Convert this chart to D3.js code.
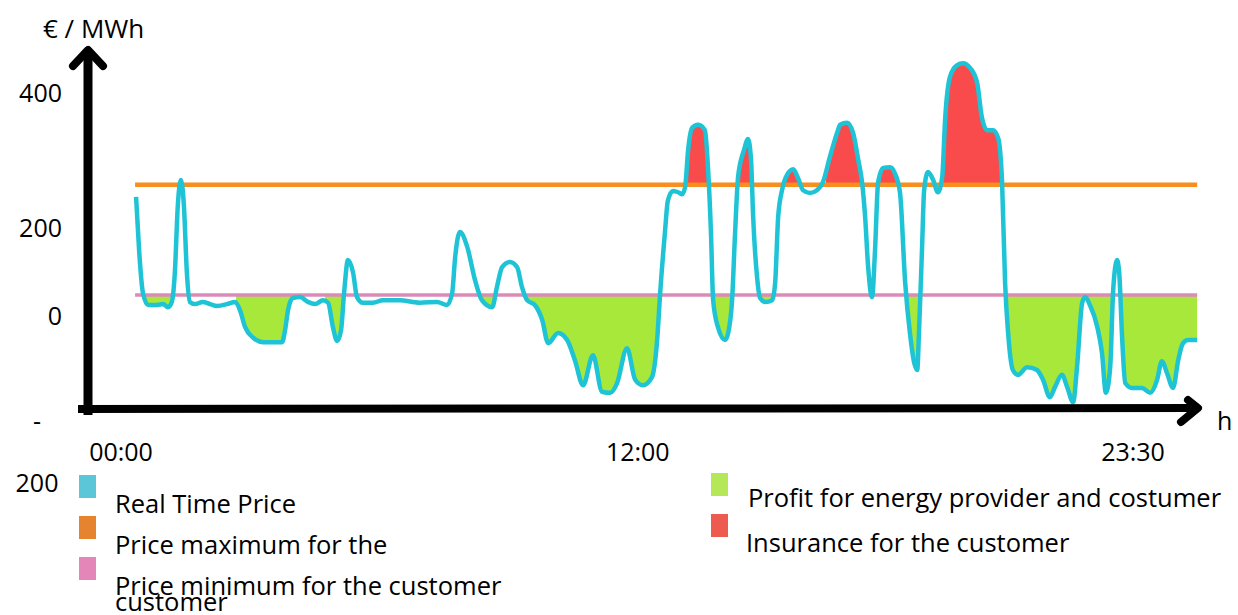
<!DOCTYPE html>
<html>
<head>
<meta charset="utf-8">
<script src="https://cdn.jsdelivr.net/npm/d3@7/dist/d3.min.js"></script>
<style>
  body { margin: 0; background: #fff; }
  text { font-family: 'Open Sans', sans-serif; fill: #000; }
</style>
</head>
<body>
<div id="chart"></div>
<script>
'use strict';

// real time price, hour of day -> EUR / MWh
const hours = [
  0.35, 0.42, 0.51, 0.63, 0.84, 0.98, 1.09, 1.18, 1.25, 1.32, 1.39, 1.46, 1.53, 1.60, 1.72, 1.90,
  2.07, 2.23, 2.46, 2.65, 2.76, 2.88, 3.07, 3.30, 3.53, 3.74, 3.81, 3.88, 3.99, 4.16, 4.34, 4.51,
  4.69, 4.81, 4.92, 5.02, 5.11, 5.18, 5.27, 5.39, 5.48, 5.62, 5.85, 6.08, 6.48, 6.78, 6.94, 7.34,
  7.57, 7.69, 7.76, 7.87, 8.04, 8.22, 8.38, 8.62, 8.73, 8.85, 9.03, 9.20, 9.31, 9.43, 9.61, 9.78,
  9.92, 10.15, 10.36, 10.54, 10.73, 10.96, 11.17, 11.36, 11.52, 11.75, 11.94, 12.12, 12.33, 12.45, 12.52, 12.63,
  12.70, 12.82, 12.94, 13.03, 13.10, 13.17, 13.26, 13.40, 13.56, 13.63, 13.70, 13.75, 13.86, 14.03, 14.10, 14.19,
  14.26, 14.33, 14.47, 14.56, 14.63, 14.68, 14.77, 14.84, 14.96, 15.12, 15.19, 15.26, 15.35, 15.47, 15.61, 15.72,
  15.84, 16.00, 16.16, 16.30, 16.46, 16.63, 16.70, 16.86, 17.00, 17.12, 17.21, 17.28, 17.35, 17.44, 17.51, 17.58,
  17.70, 17.86, 17.97, 18.09, 18.21, 18.32, 18.42, 18.49, 18.53, 18.60, 18.65, 18.74, 18.86, 18.97, 19.07, 19.14,
  19.25, 19.41, 19.55, 19.72, 19.88, 19.99, 20.11, 20.25, 20.37, 20.46, 20.53, 20.60, 20.71, 20.83, 21.04, 21.27,
  21.41, 21.57, 21.69, 21.85, 21.97, 22.11, 22.20, 22.32, 22.39, 22.50, 22.67, 22.78, 22.87, 22.97, 23.04, 23.13,
  23.18, 23.25, 23.32, 23.48, 23.71, 23.90, 24.06, 24.17, 24.29, 24.43, 24.55, 24.66, 24.78, 24.99
];
const price = [
  246, 150, 52, 25, 25, 27, 20, 32, 98, 234, 271, 234, 98, 32, 27, 32,
  27, 23, 27, 32, 14, -20, -40, -48, -48, -48, -26, 14, 41, 43, 32, 27,
  36, 30, -20, -46, -26, 52, 127, 98, 43, 30, 30, 36, 36, 32, 30, 32,
  25, 52, 134, 191, 157, 82, 36, 20, 66, 111, 123, 111, 66, 36, 25, -7,
  -50, -31, -44, -81, -127, -72, -139, -141, -123, -59, -117, -127, -112, -44, 52, 189,
  241, 255, 253, 250, 261, 316, 348, 353, 345, 290, 189, 36, -20, -44, -31, 36,
  189, 276, 316, 332, 301, 216, 89, 41, 32, 36, 75, 216, 256, 279, 287, 274,
  256, 252, 256, 268, 305, 341, 353, 356, 341, 301, 267, 216, 111, 43, 150, 267,
  289, 290, 281, 252, 75, -31, -86, -99, -31, 150, 256, 283, 271, 253, 276, 364,
  424, 441, 444, 437, 415, 364, 345, 345, 333, 267, 75, -31, -99, -108, -94, -99,
  -117, -149, -130, -108, -130, -158, -94, 30, 43, 25, -20, -68, -141, -94, 59, 127,
  98, -44, -123, -132, -132, -141, -117, -83, -105, -132, -81, -50, -44, -44
];

const priceMax = 264;
const priceMin = 48;

// hour ranges that are shaded in the picture
const profitSpans = [
  [0.51, 1.23], [2.67, 3.97], [4.74, 5.18], [8.38, 8.69], [9.43, 12.52],
  [13.75, 14.21], [14.82, 15.17], [18.21, 18.60], [20.51, 25.0]
];
const insuranceSpans = [
  [13.10, 13.72], [14.28, 14.75], [15.42, 15.77], [16.37, 17.30], [17.58, 18.14], [19.09, 20.48]
];

const xTickValues = [0, 12, 23.5];
const xTickLabels = ['00:00', '12:00', '23:30'];
const yTickValues = [-200, 0, 200, 400];
const yTickLabels = ['-200', '0', '200', '400'];

const legendLeft = [
  ['Real Time Price'],
  ['Price maximum for the'],
  ['Price minimum for the customer', 'customer']
];
const legendRight = [
  ['Profit for energy provider and costumer'],
  ['Insurance for the customer']
];

const colors = {
  price: '#1fc3d6',
  max: '#f78e1e',
  min: '#dc8ab8',
  profit: '#a7e83a',
  insurance: '#f94b4b'
};
const swatchLeft = ['#5cc6d9', '#e5832f', '#e486b8'];
const swatchRight = ['#b5e859', '#ec5a50'];

const width = 1238;
const height = 615;

const svg = d3.select('#chart')
  .append('svg')
    .attr('width', width)
    .attr('height', height);

const x = d3.scaleLinear().domain([0, 23.5]).range([121, 1133]);
// the picture's value axis is not evenly spaced
const y = d3.scaleLinear().domain(yTickValues).range([425, 316, 228, 93]);

const points = hours.map((h, i) => ({ h: h, v: price[i] }));
const hExtent = d3.extent(hours);

// clip paths for the shaded parts
const defs = svg.append('defs');

defs.append('clipPath')
    .attr('id', 'clip-profit')
  .selectAll('rect')
  .data(profitSpans)
  .join('rect')
    .attr('x', d => x(d[0]))
    .attr('width', d => x(d[1]) - x(d[0]))
    .attr('y', y(priceMin))
    .attr('height', height - y(priceMin));

defs.append('clipPath')
    .attr('id', 'clip-insurance')
  .selectAll('rect')
  .data(insuranceSpans)
  .join('rect')
    .attr('x', d => x(d[0]))
    .attr('width', d => x(d[1]) - x(d[0]))
    .attr('y', 0)
    .attr('height', y(priceMax));

const area = (base) => d3.area()
    .x(d => x(d.h))
    .y0(y(base))
    .y1(d => y(d.v))
    .curve(d3.curveMonotoneX);

svg.append('path')
    .datum(points)
    .attr('clip-path', 'url(#clip-profit)')
    .attr('fill', colors.profit)
    .attr('d', area(priceMin));

svg.append('path')
    .datum(points)
    .attr('clip-path', 'url(#clip-insurance)')
    .attr('fill', colors.insurance)
    .attr('d', area(priceMax));

// customer price limits
svg.append('line')
    .attr('x1', x(hExtent[0]) - 1)
    .attr('x2', x(hExtent[1]))
    .attr('y1', y(priceMax))
    .attr('y2', y(priceMax))
    .attr('stroke', colors.max)
    .attr('stroke-width', 4.5);

svg.append('line')
    .attr('x1', x(hExtent[0]) - 1)
    .attr('x2', x(hExtent[1]))
    .attr('y1', y(priceMin))
    .attr('y2', y(priceMin))
    .attr('stroke', colors.min)
    .attr('stroke-width', 3.5);

svg.append('path')
    .datum(points)
    .attr('fill', 'none')
    .attr('stroke', colors.price)
    .attr('stroke-width', 4.5)
    .attr('stroke-linejoin', 'round')
    .attr('d', d3.line()
      .x(d => x(d.h))
      .y(d => y(d.v))
      .curve(d3.curveMonotoneX));

// hand drawn looking axes with arrow heads
const axes = svg.append('g')
    .attr('stroke', '#000')
    .attr('fill', 'none')
    .attr('stroke-linecap', 'round');

axes.append('path')
    .attr('stroke-width', 9)
    .attr('stroke-linecap', 'butt')
    .attr('d', 'M88,415V52');
axes.append('path')
    .attr('stroke-width', 8)
    .attr('stroke-linejoin', 'round')
    .attr('d', 'M73,66L88,50L103,66');

axes.append('path')
    .attr('stroke-width', 8)
    .attr('stroke-linecap', 'butt')
    .attr('d', 'M78,409L1196,408');
axes.append('path')
    .attr('stroke-width', 8)
    .attr('stroke-linejoin', 'round')
    .attr('d', 'M1188,400L1198,408L1181,422');

// tick labels
svg.append('g')
  .selectAll('text')
  .data(xTickValues)
  .join('text')
    .attr('x', d => x(d))
    .attr('y', 461)
    .attr('text-anchor', 'middle')
    .attr('font-size', 25)
    .text((d, i) => xTickLabels[i]);

yTickValues.forEach((v, i) => {
  const label = yTickLabels[i];
  if (v < 0) {
    // the picture wraps this one onto two lines
    const t = svg.append('text')
        .attr('x', 37)
        .attr('y', y(v) - 4)
        .attr('text-anchor', 'middle')
        .attr('font-size', 25);
    t.append('tspan').attr('x', 37).attr('dy', '0.35em').text(label[0]);
    t.append('tspan').attr('x', 37).attr('dy', 62).text(label.slice(1));
  } else {
    svg.append('text')
        .attr('x', 62)
        .attr('y', y(v))
        .attr('dy', '0.35em')
        .attr('text-anchor', 'end')
        .attr('font-size', 25)
        .text(label);
  }
});

svg.append('text')
    .attr('x', 43)
    .attr('y', 38)
    .attr('font-size', 26)
    .text('€ / MWh');

svg.append('text')
    .attr('x', 1217)
    .attr('y', 430)
    .attr('font-size', 25)
    .text('h');

// legend
const legend = svg.append('g');

legendLeft.forEach((lines, i) => {
  legend.append('rect')
      .attr('x', 79)
      .attr('y', 475 + i * 41)
      .attr('width', 17)
      .attr('height', 23)
      .attr('fill', swatchLeft[i]);
  lines.forEach((line, j) => {
    legend.append('text')
        .attr('x', 115)
        .attr('y', 513 + i * 41 + j * 16)
        .attr('font-size', 25.5)
        .text(line);
  });
});

legendRight.forEach((lines, i) => {
  legend.append('rect')
      .attr('x', 711)
      .attr('y', 473 + i * 41)
      .attr('width', 17)
      .attr('height', 23)
      .attr('fill', swatchRight[i]);
  legend.append('text')
      .attr('x', i === 0 ? 748 : 746)
      .attr('y', 507 + i * 45)
      .attr('font-size', 25.5)
      .text(lines[0]);
});
</script>
</body>
</html>
